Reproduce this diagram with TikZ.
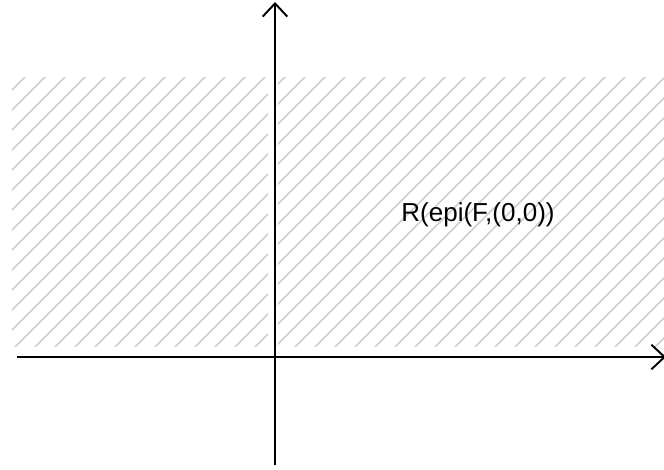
\documentclass[tikz,border=0pt]{standalone}
\usepackage{fontspec}
\setmainfont{Liberation Sans}
\usetikzlibrary{arrows.meta}

\begin{document}
\begin{tikzpicture}[x=0.02cm, y=0.02cm, font=\fontsize{14.8}{17}\selectfont,
  axis/.style={line width=1.1pt, -{Straight Barb[length=7.5pt, width=14pt, line width=1.1pt]}},
  hatch/.style={gray!38, line width=0.9pt}]
\useasboundingbox (-275,-113) rectangle (389,357);
% hatched half planes
\begin{scope}
  \clip (-263,10) rectangle (-7,279);
  \foreach \s in {-560,-540,...,0} {
    \draw[hatch] (\s,10) -- ++(300,300);
  }
\end{scope}
\begin{scope}
  \clip (3,10) rectangle (389,279);
  \foreach \s in {-280,-260,...,400} {
    \draw[hatch] (\s,10) -- ++(300,300);
  }
\end{scope}
% axes
\coordinate (xl) at (-258,0);
\coordinate (xr) at (391,0);
\coordinate (yb) at (0,-108);
\coordinate (yt) at (0,355);
\draw[axis] (xl) -- (xr);
\draw[axis] (yb) -- (yt);
\node (reg) at (203,142) {R(epi(F,(0,0))};
\end{tikzpicture}
\end{document}
